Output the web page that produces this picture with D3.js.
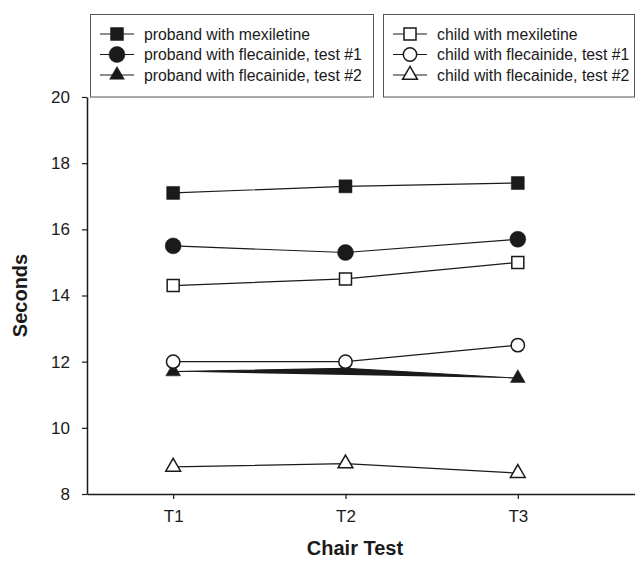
<!DOCTYPE html>
<html>
<head>
<meta charset="utf-8">
<script src="https://cdn.jsdelivr.net/npm/d3@7"></script>
<style>
  body { margin: 0; background: #fff; }
  svg { display: block; font-family: "Liberation Sans", Arial, sans-serif; }
</style>
</head>
<body>
<div id="chart"></div>
<script>
const categories = ["T1", "T2", "T3"];
const probandMexiletine = [17.1, 17.3, 17.4];
const probandFlecainide1 = [15.5, 15.3, 15.7];
const probandFlecainide2 = [11.7, 11.8, 11.5];
const childMexiletine = [14.3, 14.5, 15.0];
const childFlecainide1 = [12.0, 12.0, 12.5];
const childFlecainide2 = [8.82, 8.92, 8.63];
const yTicks = [8, 10, 12, 14, 16, 18, 20];

const W = 635, H = 562;
const ink = "#1a1a1a";

const series = [
  { name: "proband with mexiletine", values: probandMexiletine, shape: d3.symbolSquare, size: 169, filled: true },
  { name: "proband with flecainide, test #1", values: probandFlecainide1, shape: d3.symbolCircle, size: 200, filled: true },
  // this one is drawn as a closed, filled path in the original (the black wedge)
  { name: "proband with flecainide, test #2", values: probandFlecainide2, shape: d3.symbolTriangle, size: 95, filled: true, fillLine: true },
  { name: "child with mexiletine", values: childMexiletine, shape: d3.symbolSquare, size: 144, filled: false },
  { name: "child with flecainide, test #1", values: childFlecainide1, shape: d3.symbolCircle, size: 140, filled: false },
  { name: "child with flecainide, test #2", values: childFlecainide2, shape: d3.symbolTriangle, size: 95, filled: false }
];

const svg = d3.select("#chart").append("svg")
  .attr("width", W)
  .attr("height", H);

const x = d3.scaleLinear().domain([0.5, 3.68]).range([87, 635]);
const y = d3.scaleLinear().domain([8, 20]).range([494, 97]);

// X-axis
const xAxis = svg.append("g")
  .attr("transform", `translate(0,${y(8)})`)
  .call(d3.axisBottom(x)
    .tickValues([1, 2, 3])
    .tickFormat(d => categories[d - 1])
    .tickSizeInner(5)
    .tickSizeOuter(0)
    .tickPadding(11));
xAxis.select(".domain").attr("stroke", ink).attr("stroke-width", 1.5);
xAxis.selectAll(".tick line").attr("stroke", ink).attr("stroke-width", 1.2);
xAxis.selectAll(".tick text")
  .attr("fill", ink)
  .style("font-size", "17px");

// Y-axis
const yAxis = svg.append("g")
  .attr("transform", `translate(${x(0.5)},0)`)
  .call(d3.axisLeft(y)
    .tickValues(yTicks)
    .tickSizeInner(5)
    .tickSizeOuter(0)
    .tickPadding(12));
yAxis.select(".domain").attr("stroke", ink).attr("stroke-width", 1.5);
yAxis.selectAll(".tick line").attr("stroke", ink).attr("stroke-width", 1.2);
yAxis.selectAll(".tick text")
  .attr("fill", ink)
  .style("font-size", "17px");

// axis titles
svg.append("text")
  .attr("x", (x(0.5) + W) / 2 - 6)
  .attr("y", 555)
  .attr("text-anchor", "middle")
  .attr("fill", ink)
  .style("font-size", "20px")
  .style("font-weight", "bold")
  .text("Chair Test");

svg.append("text")
  .attr("transform", `translate(27,${(y(8) + y(20)) / 2}) rotate(-90)`)
  .attr("text-anchor", "middle")
  .attr("fill", ink)
  .style("font-size", "20px")
  .style("font-weight", "bold")
  .text("Seconds");

// lines
const line = d3.line()
  .x((d, i) => x(i + 1))
  .y(d => y(d));

const plot = svg.append("g");

series.forEach(s => {
  plot.append("path")
    .datum(s.values)
    .attr("d", line)
    .attr("fill", s.fillLine ? ink : "none")
    .attr("stroke", ink)
    .attr("stroke-width", 1.2);

  plot.selectAll(null)
    .data(s.values)
    .enter().append("path")
    .attr("transform", (d, i) => `translate(${x(i + 1)},${y(d)})`)
    .attr("d", d3.symbol().type(s.shape).size(s.size))
    .attr("fill", s.filled ? ink : "#fff")
    .attr("stroke", ink)
    .attr("stroke-width", s.filled ? 0.5 : 1.5);
});

// legends
const legendBoxes = [
  { x: 90, w: 283, items: series.slice(0, 3) },
  { x: 383, w: 251, items: series.slice(3) }
];
const rowY = [34, 54.5, 75];

legendBoxes.forEach(box => {
  const g = svg.append("g");
  g.append("rect")
    .attr("x", box.x + 0.5)
    .attr("y", 14.5)
    .attr("width", box.w)
    .attr("height", 82.5)
    .attr("fill", "#fff")
    .attr("stroke", "#555")
    .attr("stroke-width", 1);

  const cx = box.x + 27;
  box.items.forEach((s, i) => {
    const row = g.append("g").attr("transform", `translate(${cx},${rowY[i]})`);
    row.append("line")
      .attr("x1", -17).attr("x2", 17)
      .attr("stroke", ink)
      .attr("stroke-width", 1.2);
    row.append("path")
      .attr("d", d3.symbol().type(s.shape).size(s.size))
      .attr("fill", s.filled ? ink : "#fff")
      .attr("stroke", ink)
      .attr("stroke-width", s.filled ? 0.5 : 1.5);
    row.append("text")
      .attr("x", 27)
      .attr("dy", "0.35em")
      .attr("fill", ink)
      .style("font-size", "15.8px")
      .text(s.name);
  });
});
</script>
</body>
</html>
